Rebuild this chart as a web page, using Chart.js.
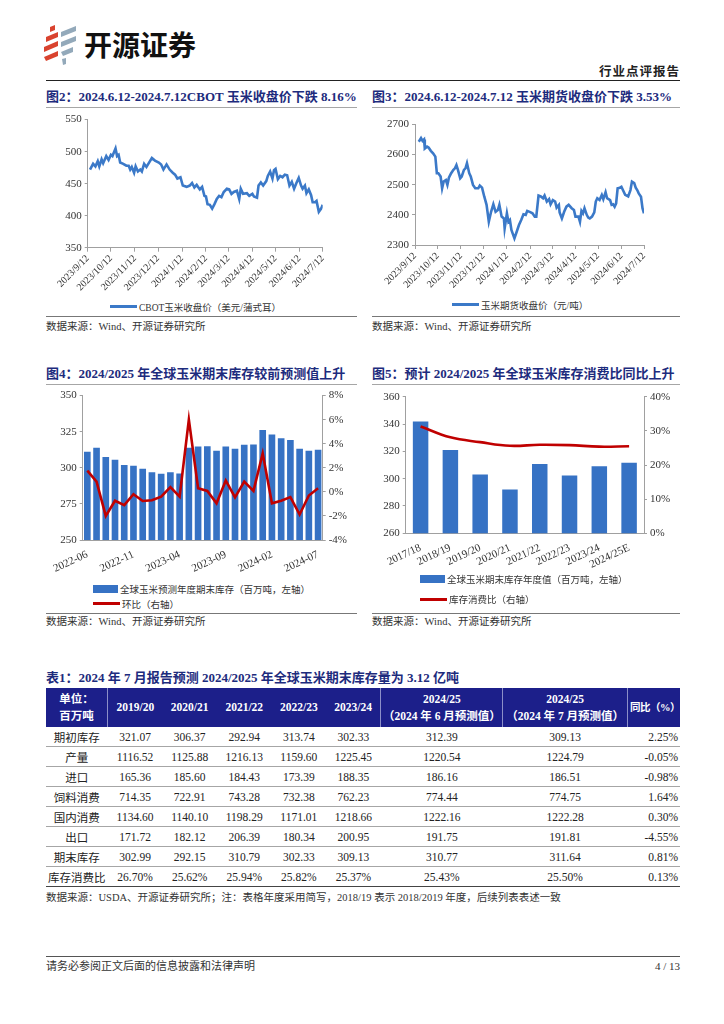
<!DOCTYPE html>
<html lang="zh-CN">
<head>
<meta charset="UTF-8">
<title>开源证券 行业点评报告</title>
<script src="https://cdn.jsdelivr.net/npm/chart.js"></script>
<style>
  body { margin: 0; background: #fff; font-family: "Liberation Serif", "Noto Sans CJK SC", serif; color: #222; }
  #page { position: relative; width: 724px; height: 1024px; overflow: hidden; }
  .figtitle { position: absolute; font-size: 13px; font-weight: bold; color: #1d2b7d; white-space: nowrap; line-height: 16px; }
  .rule { position: absolute; height: 0; border-top: 1px solid #a6a6a6; }
  .src { position: absolute; font-size: 10.5px; color: #333; white-space: nowrap; line-height: 14px; }
  canvas { position: absolute; }
  .legend { position: absolute; font-size: 9.5px; color: #333; white-space: nowrap; }
  .legend .item { display: flex; align-items: center; height: 15px; }
  .legend .sw { display: inline-block; margin-right: 2px; }
  #lg5 .item { height: 20px; }
  #tbl { position: absolute; left: 46px; top: 688px; width: 634px; border-collapse: collapse; font-size: 11.5px; }
  #tbl th { background: #1c1f8a; color: #fff; font-weight: bold; height: 39px; padding: 0; line-height: 17px; font-size: 11.5px; white-space: nowrap; }
  #tbl th.sep { border-right: 1px solid #8c8fc8; }
  #tbl th.last { font-size: 10.5px; letter-spacing: -0.5px; text-align: left; padding-left: 2px; }
  #tbl td { height: 19px; padding: 0; text-align: center; border-bottom: 1px solid #a6a6a6; color: #222; }
  #tbl tr:last-child td { border-bottom: 1.5px solid #444; }
</style>
</head>
<body>
<div id="page">
  <!-- logo -->
  <svg style="position:absolute;left:42px;top:23px" width="40" height="44" viewBox="0 0 40 44">
    <polygon points="4,14 16,9 16,14 4,19" fill="#d9432f"/>
    <polygon points="2,24 16,18 16,23 2,29" fill="#d9432f"/>
    <polygon points="2,34 16,28 16,33 4,38" fill="#d9432f"/>
    <polygon points="8,4 13,2 13,7 8,9" fill="#d9432f"/>
    <polygon points="19,9 34,3 34,8 19,14" fill="#93a9ba"/>
    <polygon points="19,19 34,13 34,18 19,24" fill="#93a9ba"/>
    <polygon points="19,29 31,24 31,29 21,33" fill="#93a9ba"/>
    <polygon points="20,36 24,35 24,41 21,42" fill="#93a9ba"/>
  </svg>
  <div style="position:absolute;left:84px;top:24px;font-family:'Noto Sans CJK SC';font-weight:bold;font-size:28px;line-height:40px;color:#111">开源证券</div>
  <div style="position:absolute;right:44px;top:65px;font-size:12.5px;font-weight:bold;color:#222;line-height:15px;letter-spacing:1px">行业点评报告</div>
  <div style="position:absolute;left:46px;top:80px;width:634px;border-top:1.5px solid #222"></div>

  <!-- figure 2 / 3 -->
  <div class="figtitle" style="left:46px;top:89px">图2：2024.6.12-2024.7.12CBOT 玉米收盘价下跌 8.16%</div>
  <div class="figtitle" style="left:372px;top:89px">图3：2024.6.12-2024.7.12 玉米期货收盘价下跌 3.53%</div>
  <div class="rule" style="left:46px;top:107px;width:311px"></div>
  <div class="rule" style="left:372px;top:107px;width:308px"></div>
  <canvas id="c2" width="311" height="182" style="left:46px;top:110px"></canvas>
  <canvas id="c3" width="308" height="182" style="left:372px;top:110px"></canvas>
  <div class="legend" id="lg2" style="left:110px;top:299px"></div>
  <div class="legend" id="lg3" style="left:452px;top:297px"></div>
  <div class="rule" style="left:46px;top:316px;width:311px;border-color:#777"></div>
  <div class="rule" style="left:372px;top:316px;width:308px;border-color:#777"></div>
  <div class="src" style="left:46px;top:320px">数据来源：Wind、开源证券研究所</div>
  <div class="src" style="left:372px;top:320px">数据来源：Wind、开源证券研究所</div>

  <!-- figure 4 / 5 -->
  <div class="figtitle" style="left:46px;top:366px">图4：2024/2025 年全球玉米期末库存较前预测值上升</div>
  <div class="figtitle" style="left:372px;top:366px">图5：预计 2024/2025 年全球玉米库存消费比同比上升</div>
  <div class="rule" style="left:46px;top:384px;width:311px"></div>
  <div class="rule" style="left:372px;top:384px;width:308px"></div>
  <canvas id="c4" width="311" height="195" style="left:46px;top:386px"></canvas>
  <canvas id="c5" width="308" height="185" style="left:372px;top:386px"></canvas>
  <div class="legend" id="lg4" style="left:93px;top:581px"></div>
  <div class="legend" id="lg5" style="left:420px;top:569px"></div>
  <div class="rule" style="left:46px;top:613px;width:311px;border-color:#777"></div>
  <div class="rule" style="left:372px;top:613px;width:308px;border-color:#777"></div>
  <div class="src" style="left:46px;top:615px">数据来源：Wind、开源证券研究所</div>
  <div class="src" style="left:372px;top:615px">数据来源：Wind、开源证券研究所</div>

  <!-- table -->
  <div class="figtitle" style="left:46px;top:670px">表1：2024 年 7 月报告预测 2024/2025 年全球玉米期末库存量为 3.12 亿吨</div>
  <table id="tbl"></table>
  <div class="src" style="left:46px;top:891px">数据来源：USDA、开源证券研究所；注：表格年度采用简写，2018/19 表示 2018/2019 年度，后续列表表述一致</div>

  <!-- footer -->
  <div style="position:absolute;left:46px;top:956px;width:634px;border-top:1.5px solid #555"></div>
  <div class="src" style="left:46px;top:959px;font-size:11px">请务必参阅正文后面的信息披露和法律声明</div>
  <div class="src" style="right:44px;top:959px;font-size:11px">4 / 13</div>
</div>

<script>
// ---- 图2 CBOT 玉米收盘价（美元/蒲式耳），x = 距 2023/9/12 的天数
const cbotDays = [3, 7, 10, 13, 15, 18, 20, 24, 27, 30, 32, 36, 38, 40, 42, 46, 50, 53, 55, 57, 60, 62, 65, 68, 70, 73, 76, 79, 83, 87, 92, 95, 98, 102, 106, 110, 113, 116, 120, 123, 128, 132, 135, 138, 141, 145, 148, 151, 153, 155, 158, 161, 164, 167, 170, 173, 176, 180, 183, 186, 189, 193, 196, 198, 201, 206, 209, 213, 215, 219, 221, 224, 227, 231, 233, 236, 239, 241, 243, 246, 249, 252, 255, 258, 261, 264, 267, 270, 273, 276, 278, 281, 283, 286, 289, 291, 294, 296, 299, 302, 304];
const cbotPrice = [472, 481, 477, 485, 477, 488, 482, 493, 487, 495, 493, 505, 493, 495, 483, 481, 478, 478, 472, 476, 467, 477, 469, 472, 469, 481, 476, 482, 490, 486, 483, 480, 472, 480, 472, 467, 464, 458, 460, 447, 445, 447, 451, 444, 448, 441, 445, 431, 430, 418, 417, 411, 418, 426, 431, 429, 437, 442, 441, 434, 437, 439, 426, 442, 434, 435, 431, 434, 430, 428, 447, 452, 447, 454, 462, 469, 458, 471, 473, 457, 462, 460, 464, 463, 447, 453, 442, 451, 459, 447, 442, 447, 435, 441, 432, 421, 421, 423, 406, 411, 417];

// ---- 图3 玉米期货收盘价（元/吨）
const futDays = [5, 8, 10, 12, 13, 16, 18, 21, 24, 27, 29, 31, 34, 36, 38, 41, 43, 45, 48, 51, 53, 55, 57, 60, 62, 65, 67, 69, 72, 74, 77, 80, 84, 86, 89, 92, 95, 98, 101, 104, 107, 110, 112, 115, 118, 119, 122, 124, 126, 128, 132, 135, 138, 141, 144, 147, 149, 153, 156, 159, 161, 164, 167, 170, 172, 175, 178, 180, 183, 186, 188, 191, 192, 195, 198, 201, 204, 208, 211, 213, 217, 219, 221, 223, 225, 228, 230, 232, 235, 238, 240, 242, 245, 248, 250, 253, 255, 259, 261, 263, 265, 267, 269, 272, 274, 276, 279, 283, 286, 288, 291, 293, 295, 297, 300, 302, 304];
const futPrice = [2642, 2654, 2645, 2650, 2620, 2626, 2623, 2612, 2604, 2593, 2538, 2538, 2527, 2488, 2510, 2515, 2499, 2523, 2538, 2549, 2554, 2565, 2549, 2521, 2527, 2549, 2554, 2571, 2538, 2527, 2499, 2488, 2488, 2497, 2490, 2460, 2433, 2377, 2410, 2435, 2410, 2416, 2433, 2394, 2388, 2355, 2405, 2377, 2383, 2350, 2322, 2344, 2366, 2383, 2402, 2400, 2413, 2409, 2405, 2394, 2394, 2464, 2461, 2455, 2464, 2444, 2452, 2435, 2449, 2444, 2424, 2433, 2408, 2388, 2410, 2427, 2433, 2422, 2416, 2394, 2394, 2377, 2413, 2405, 2422, 2400, 2391, 2388, 2394, 2408, 2444, 2455, 2449, 2466, 2452, 2475, 2455, 2449, 2433, 2435, 2427, 2438, 2488, 2490, 2493, 2482, 2466, 2461, 2482, 2510, 2505, 2490, 2482, 2471, 2460, 2422, 2405];

const dateTickDays = [0, 30, 61, 91, 122, 153, 182, 213, 243, 274, 304];
const dateTickLabels = ['2023/9/12', '2023/10/12', '2023/11/12', '2023/12/12', '2024/1/12', '2024/2/12', '2024/3/12', '2024/4/12', '2024/5/12', '2024/6/12', '2024/7/12'];

// ---- 图4 全球玉米预测年度期末库存（百万吨）及环比
const stockMonths = ['2022-06', '2022-07', '2022-08', '2022-09', '2022-10', '2022-11', '2022-12', '2023-01', '2023-02', '2023-03', '2023-04', '2023-05', '2023-06', '2023-07', '2023-08', '2023-09', '2023-10', '2023-11', '2023-12', '2024-01', '2024-02', '2024-03', '2024-04', '2024-05', '2024-06', '2024-07'];
const stockForecast = [311.1, 313.9, 307.5, 305.5, 302.0, 301.4, 299.3, 297.0, 295.9, 297.0, 296.0, 313.9, 314.8, 315.0, 311.8, 314.8, 313.2, 315.9, 316.1, 326.1, 323.0, 320.5, 319.3, 313.2, 311.8, 312.5];
const stockMoM = [1.77, 0.85, -2.0, -0.74, -1.1, -0.2, -0.76, -0.7, -0.4, 0.4, -0.4, 6.0, 0.3, 0.08, -0.95, 0.95, -0.46, 0.85, 0.08, 3.2, -0.95, -0.74, -0.44, -1.88, -0.3, 0.3];

// ---- 图5 全球玉米期末库存年度值（百万吨）及库存消费比
const seasons = ['2017/18', '2018/19', '2019/20', '2020/21', '2021/22', '2022/23', '2023/24', '2024/25E'];
const endStock = [341.8, 321.07, 302.99, 292.15, 310.79, 302.33, 309.13, 311.64];
const stockToUse = [31.3, 28.1, 26.70, 25.62, 25.94, 25.82, 25.37, 25.50];

// ---- 表1
const tableHead = ['单位：<br>百万吨', '2019/20', '2020/21', '2021/22', '2022/23', '2023/24', '2024/25<br>（2024 年 6 月预测值）', '2024/25<br>（2024 年 7 月预测值）', '同比（%）'];
const tableRowNames = ['期初库存', '产量', '进口', '饲料消费', '国内消费', '出口', '期末库存', '库存消费比'];
const tableRows = [
  ['321.07', '306.37', '292.94', '313.74', '302.33', '312.39', '309.13', '2.25%'],
  ['1116.52', '1125.88', '1216.13', '1159.60', '1225.45', '1220.54', '1224.79', '-0.05%'],
  ['165.36', '185.60', '184.43', '173.39', '188.35', '186.16', '186.51', '-0.98%'],
  ['714.35', '722.91', '743.28', '732.38', '762.23', '774.44', '774.75', '1.64%'],
  ['1134.60', '1140.10', '1198.29', '1171.01', '1218.66', '1222.16', '1222.28', '0.30%'],
  ['171.72', '182.12', '206.39', '180.34', '200.95', '191.75', '191.81', '-4.55%'],
  ['302.99', '292.15', '310.79', '302.33', '309.13', '310.77', '311.64', '0.81%'],
  ['26.70%', '25.62%', '25.94%', '25.82%', '25.37%', '25.43%', '25.50%', '0.13%']
];
const colWidths = [63, 56, 55, 56, 55, 56, 122, 125, 46];

const BLUE = '#3b79c8';
const BAR = '#3672c4';
const RED = '#c00000';
const AXIS = '#a0a0a0';
const TXT = '#333';
const serif = 'Liberation Serif';

function priceChart(id, label, days, values, yMin, yMax, step, pad, yWidth, xHeight) {
  return new Chart(document.getElementById(id), {
    type: 'line',
    data: { datasets: [{ label: label, data: days.map((d, i) => ({ x: d, y: values[i] })),
      borderColor: BLUE, borderWidth: 2.6, pointRadius: 0, tension: 0 }] },
    options: {
      responsive: false, animation: false,
      layout: { padding: pad },
      plugins: { legend: { display: false }, tooltip: { enabled: false } },
      scales: {
        x: {
          type: 'linear', min: 0, max: 304,
          afterBuildTicks: s => { s.ticks = dateTickDays.map(v => ({ value: v })); },
          afterFit: s => { s.height = xHeight; },
          ticks: { callback: (v, i) => dateTickLabels[i], minRotation: 45, maxRotation: 45, autoSkip: false,
            font: { family: serif, size: 10 }, color: TXT, padding: 1 },
          grid: { drawOnChartArea: false, tickLength: 4, color: AXIS },
          border: { color: AXIS }
        },
        y: {
          min: yMin, max: yMax,
          afterFit: s => { s.width = yWidth; },
          ticks: { stepSize: step, callback: v => String(v), font: { family: serif, size: 11 }, color: TXT, padding: 3 },
          grid: { drawOnChartArea: false, tickLength: 3, color: AXIS },
          border: { color: AXIS }
        }
      }
    }
  });
}

const c2 = priceChart('c2', 'CBOT玉米收盘价（美元/蒲式耳）', cbotDays, cbotPrice, 350, 550, 50,
  { top: 7.7, right: 34.3 }, 41.7, 44.3);
const c3 = priceChart('c3', '玉米期货收盘价（元/吨）', futDays, futPrice, 2300, 2700, 100,
  { top: 14.3, right: 36 }, 43, 47);

function comboChart(id, labels, bars, line, cfg) {
  return new Chart(document.getElementById(id), {
    data: {
      labels: labels,
      datasets: [
        { type: 'line', label: cfg.lineLabel, data: line, yAxisID: 'y1', borderColor: RED, borderWidth: 2.6,
          pointRadius: 0, tension: cfg.tension, order: 0 },
        { type: 'bar', label: cfg.barLabel, data: bars, yAxisID: 'y', backgroundColor: BAR,
          barPercentage: cfg.barPct, categoryPercentage: 1, order: 1 }
      ]
    },
    options: {
      responsive: false, animation: false,
      layout: { padding: cfg.pad },
      plugins: { legend: { display: false }, tooltip: { enabled: false } },
      scales: {
        x: {
          afterFit: s => { s.height = cfg.xHeight; },
          ticks: { autoSkip: false, minRotation: cfg.rot, maxRotation: cfg.rot, padding: 0,
            callback: (v, i) => (i % cfg.every === 0 ? labels[i] : ''),
            font: { family: serif, size: 11 }, color: TXT },
          grid: { display: false },
          border: { color: AXIS }
        },
        y: {
          min: cfg.yMin, max: cfg.yMax, position: 'left',
          afterFit: s => { s.width = cfg.yWidth; },
          ticks: { stepSize: cfg.yStep, font: { family: serif, size: 11 }, color: TXT, padding: 3 },
          grid: { drawOnChartArea: false, tickLength: 3, color: AXIS },
          border: { color: AXIS }
        },
        y1: {
          min: cfg.rMin, max: cfg.rMax, position: 'right',
          afterFit: s => { s.width = cfg.rWidth; },
          ticks: { stepSize: cfg.rStep, callback: v => v + '%', font: { family: serif, size: 11 }, color: TXT, padding: 3 },
          grid: { drawOnChartArea: false, tickLength: 3, color: AXIS },
          border: { color: AXIS }
        }
      }
    }
  });
}

const c4 = comboChart('c4', stockMonths, stockForecast, stockMoM, {
  barLabel: '全球玉米预测年度期末库存（百万吨，左轴）', lineLabel: '环比（右轴）',
  tension: 0, barPct: 0.72, every: 5, rot: 25, xHeight: 41, pad: { top: 7.3 },
  yMin: 250, yMax: 350, yStep: 25, yWidth: 36.7,
  rMin: -4, rMax: 8, rStep: 2, rWidth: 34.3
});
const c5 = comboChart('c5', seasons, endStock, stockToUse, {
  barLabel: '全球玉米期末库存年度值（百万吨，左轴）', lineLabel: '库存消费比（右轴）',
  tension: 0.4, barPct: 0.52, every: 1, rot: 25, xHeight: 37.7, pad: { top: 10.7 },
  yMin: 260, yMax: 360, yStep: 20, yWidth: 33.7,
  rMin: 0, rMax: 40, rStep: 10, rWidth: 36
});

// HTML legends built from the chart datasets
function legend(elId, chart, orderIdx) {
  const el = document.getElementById(elId);
  orderIdx.forEach(i => {
    const ds = chart.data.datasets[i];
    const isBar = ds.type === 'bar';
    const sw = isBar
      ? '<span class="sw" style="width:25px;height:8px;background:' + ds.backgroundColor + '"></span>'
      : '<span class="sw" style="width:27px;height:3px;background:' + ds.borderColor + '"></span>';
    el.insertAdjacentHTML('beforeend', '<div class="item">' + sw + '<span>' + ds.label + '</span></div>');
  });
}
legend('lg2', c2, [0]);
legend('lg3', c3, [0]);
legend('lg4', c4, [1, 0]);
legend('lg5', c5, [1, 0]);

// table
const tbl = document.getElementById('tbl');
let html = '<colgroup>' + colWidths.map(w => '<col style="width:' + w + 'px">').join('') + '</colgroup><tr>';
tableHead.forEach((h, i) => {
  let cls = (i === 0 || i === 5 || i === 6 || i === 7) ? 'sep' : '';
  if (i === tableHead.length - 1) cls = 'last';
  html += '<th' + (cls ? ' class="' + cls + '"' : '') + '>' + h + '</th>';
});
html += '</tr>';
tableRowNames.forEach((name, r) => {
  html += '<tr><td>' + name + '</td>' + tableRows[r].map((v, c) =>
    '<td' + (c === 7 ? ' style="text-align:right;padding-right:2px"' : '') + '>' + v + '</td>').join('') + '</tr>';
});
tbl.innerHTML = html;
</script>
</body>
</html>
